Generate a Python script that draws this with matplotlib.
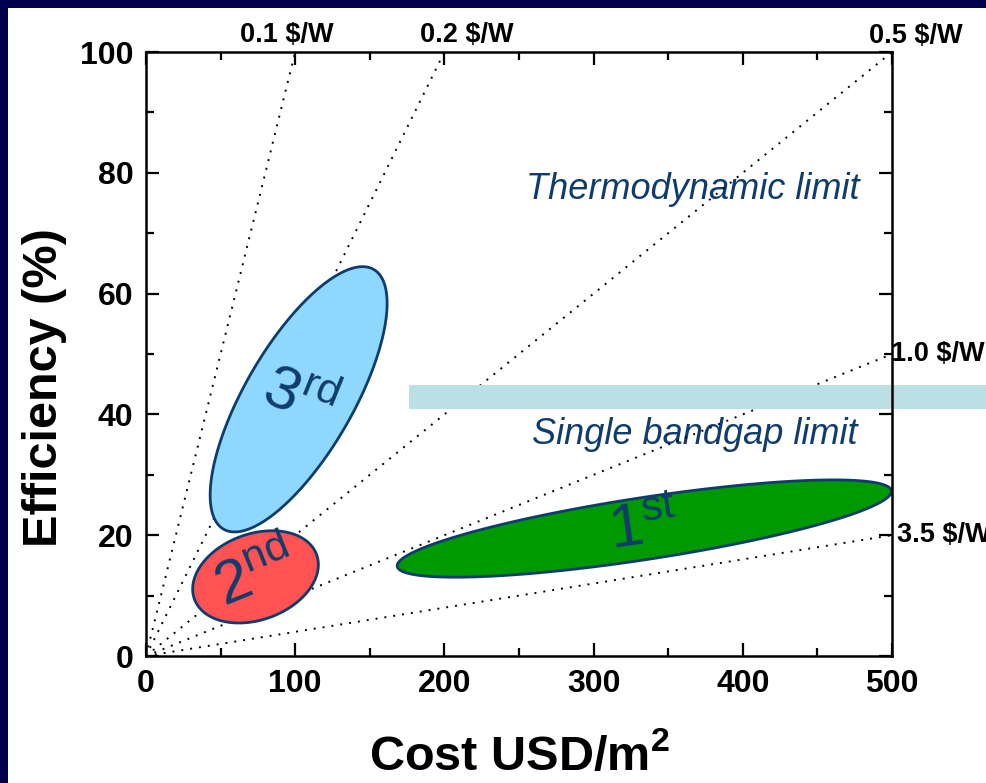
import numpy as np
import matplotlib
matplotlib.use('Agg')
import matplotlib.pyplot as plt
from matplotlib.patches import Rectangle, Polygon
from matplotlib.ticker import MultipleLocator

plt.rcParams['font.family'] = ['Liberation Sans', 'DejaVu Sans']
plt.rcParams['mathtext.fontset'] = 'custom'
plt.rcParams['mathtext.rm'] = 'Liberation Sans'
plt.rcParams['mathtext.it'] = 'Liberation Sans:italic'
plt.rcParams['mathtext.bf'] = 'Liberation Sans:bold'

# ---------------- data ----------------
price_labels = ['0.1 $/W', '0.2 $/W', '0.5 $/W', '1.0 $/W', '3.5 $/W']
line_end_cost = [100, 200, 500, 500, 500]
line_end_eff = [100, 100, 100, 50, 20]

gen_names = ['1', '2', '3']
gen_suffix = ['st', 'nd', 'rd']
gen_center_cost = [334.0, 73.4, 102.3]
gen_center_eff = [21.1, 13.1, 42.5]
gen_major_cost = [165.6, 40.95, 50.3]
gen_major_eff = [6.26, 3.68, 21.5]
gen_minor_cost = [-3.15, -9.85, -31.4]
gen_minor_eff = [5.07, 6.69, 4.47]
gen_colors = ['#009900', '#ff5353', '#8fd8fd']
gen_text_angle = [8, 22, -22]

band_eff = [40.9, 44.9]
band_start_cost = 176

x_ticks = [0, 100, 200, 300, 400, 500]
y_ticks = [0, 20, 40, 60, 80, 100]

navy = '#00004d'
dark_blue = '#0f3c6e'

# ---------------- figure ----------------
fig = plt.figure(figsize=(9.87, 7.83), dpi=100)
fig.patch.set_facecolor(navy)
fig.add_artist(Rectangle((8 / 987, 0), 1, (783 - 8) / 783, transform=fig.transFigure,
                         facecolor='white', edgecolor='none', zorder=-10))

ax = fig.add_axes([146 / 987, (783 - 656) / 783, (892 - 146) / 987, (656 - 52) / 783])
ax.set_facecolor('white')
ax.set_xlim(0, 500)
ax.set_ylim(0, 100)

# iso-price lines
for lab, xc, ye in zip(price_labels, line_end_cost, line_end_eff):
    ax.plot([0, xc], [0, ye], color='black', lw=1.4, linestyle=(0, (1.0, 3.6)), zorder=2)

# label offsets (pixels) for price labels
label_style = [
    dict(xytext=(-8, 10), ha='center', va='baseline'),
    dict(xytext=(22, 10), ha='center', va='baseline'),
    dict(xytext=(24, 9), ha='center', va='baseline'),
    dict(xytext=(-1, 0), ha='left', va='center'),
    dict(xytext=(5, 0), ha='left', va='center'),
]
for lab, xc, ye, st in zip(price_labels, line_end_cost, line_end_eff, label_style):
    ax.annotate(lab, xy=(xc, ye), textcoords='offset pixels', fontsize=19.5,
                fontweight='bold', color='black', annotation_clip=False, **st)

# band between limits
ax.add_patch(Rectangle((band_start_cost, band_eff[0]), 600 - band_start_cost,
                       band_eff[1] - band_eff[0], facecolor='#bbe0e3', edgecolor='none',
                       clip_on=False, zorder=3))

# generation ellipses
t = np.linspace(0, 2 * np.pi, 400)
for i in range(3):
    xs = gen_center_cost[i] + gen_major_cost[i] * np.cos(t) + gen_minor_cost[i] * np.sin(t)
    ys = gen_center_eff[i] + gen_major_eff[i] * np.cos(t) + gen_minor_eff[i] * np.sin(t)
    ax.add_patch(Polygon(np.column_stack([xs, ys]), closed=True, facecolor=gen_colors[i],
                         edgecolor=dark_blue, lw=2.0, zorder=4))
    ax.text(gen_center_cost[i], gen_center_eff[i],
            gen_names[i] + r'$^{\mathrm{' + gen_suffix[i] + '}}$',
            fontsize=44, color=dark_blue, rotation=gen_text_angle[i],
            rotation_mode='anchor', ha='center', va='center', zorder=5)

# limit labels
ax.text(477.9, 75.7, 'Thermodynamic limit', fontsize=26, style='italic',
        color=dark_blue, ha='right', va='baseline', zorder=1)
ax.text(477.2, 35.1, 'Single bandgap limit', fontsize=26, style='italic',
        color=dark_blue, ha='right', va='baseline', zorder=1)

# axes styling
ax.set_xticks(x_ticks)
ax.set_yticks(y_ticks)
ax.xaxis.set_minor_locator(MultipleLocator(50))
ax.yaxis.set_minor_locator(MultipleLocator(10))
ax.tick_params(which='both', direction='in', top=True, right=True, width=1.6,
               color='black')
ax.tick_params(which='major', length=9.5, labelsize=23, pad=9)
ax.tick_params(which='minor', length=5.5)
for lbl in ax.get_xticklabels() + ax.get_yticklabels():
    lbl.set_fontweight('bold')
for sp in ax.spines.values():
    sp.set_linewidth(1.8)
    sp.set_zorder(6)

ax.text(-0.1354, 0.444, 'Efficiency (%)', transform=ax.transAxes, rotation=90,
        fontsize=35, fontweight='bold', ha='center', va='center')
ax.text(0.5, -0.1887, r'Cost USD/m$^{\mathbf{2}}$', transform=ax.transAxes,
        fontsize=35, fontweight='bold', ha='center', va='baseline')

fig.savefig('out.png', dpi=100, facecolor=fig.get_facecolor())
